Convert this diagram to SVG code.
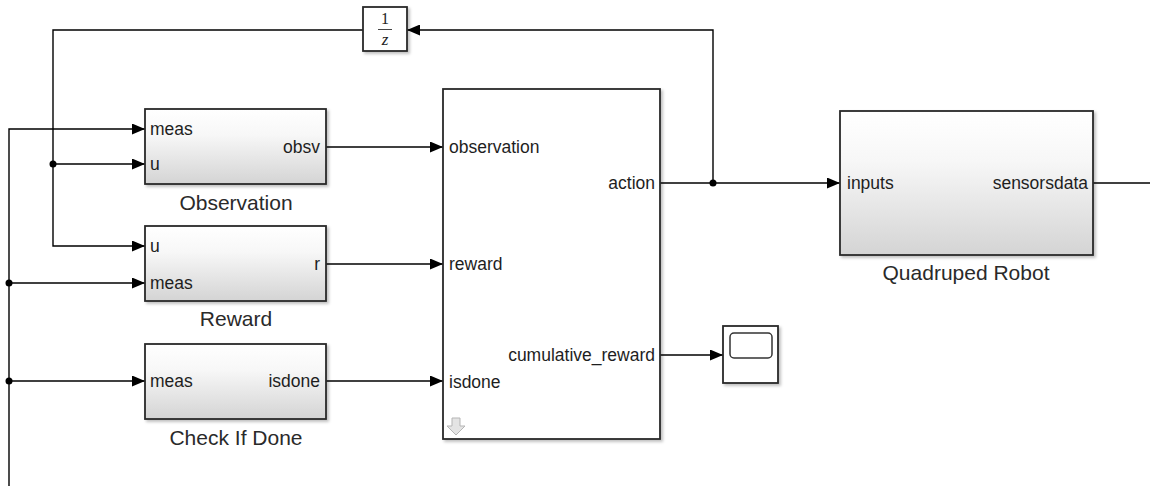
<svg xmlns="http://www.w3.org/2000/svg" width="1150" height="486" viewBox="0 0 1150 486">
<style>
.blk{stroke:#2a2a2a;stroke-width:1.8;filter:url(#sh)}
.port{font-family:"Liberation Sans",Arial,sans-serif;font-size:17.5px;fill:#1e1e1e}
.name{font-family:"Liberation Sans",Arial,sans-serif;font-size:21px;fill:#2a2a2a;text-anchor:middle}
.w{fill:none;stroke:#000;stroke-width:1.4}
.end{text-anchor:end}
</style>
<defs>
<linearGradient id="g" x1="0" y1="0" x2="0" y2="1">
<stop offset="0" stop-color="#ffffff"/>
<stop offset="0.35" stop-color="#f7f7f7"/>
<stop offset="1" stop-color="#d4d4d4"/>
</linearGradient>
<filter id="sh" x="-10%" y="-10%" width="130%" height="130%">
<feDropShadow dx="2" dy="2" stdDeviation="1.5" flood-color="#000" flood-opacity="0.25"/>
</filter>
<marker id="a" viewBox="0 0 13 11" refX="13" refY="5.5" markerWidth="13" markerHeight="11" markerUnits="userSpaceOnUse" orient="auto">
<path d="M0,0 L13,5.5 L0,11 Z" fill="#000"/>
</marker>
</defs>

<g id="connectors">
<path class="w" d="M9,486 V129 H145" marker-end="url(#a)"/>
<path class="w" d="M9,283 H145" marker-end="url(#a)"/>
<path class="w" d="M9,381 H145" marker-end="url(#a)"/>
<path class="w" d="M363,30 H53 V246 H145" marker-end="url(#a)"/>
<path class="w" d="M53,164 H145" marker-end="url(#a)"/>
<path class="w" d="M326,147 H443" marker-end="url(#a)"/>
<path class="w" d="M326,264 H443" marker-end="url(#a)"/>
<path class="w" d="M326,381 H443" marker-end="url(#a)"/>
<path class="w" d="M660,183 H840" marker-end="url(#a)"/>
<path class="w" d="M713,183 V30 H407" marker-end="url(#a)"/>
<path class="w" d="M660,355 H723" marker-end="url(#a)"/>
<path class="w" d="M1093,183 H1150"/>
<circle cx="9" cy="283" r="3.5" fill="#000"/>
<circle cx="9" cy="381" r="3.5" fill="#000"/>
<circle cx="53" cy="164" r="3.5" fill="#000"/>
<circle cx="713" cy="183" r="3.5" fill="#000"/>
</g>

<g id="unit-delay">
<rect class="blk" x="363" y="7" width="44" height="44" fill="#fff"/>
<text x="385" y="24" font-family="Liberation Serif,serif" font-size="16" text-anchor="middle" fill="#222">1</text>
<line x1="378" y1="29.5" x2="392" y2="29.5" stroke="#444" stroke-width="1"/>
<text x="385" y="45" font-family="Liberation Serif,serif" font-size="17" font-style="italic" text-anchor="middle" fill="#222">z</text>
</g>

<g id="observation">
<rect class="blk" x="145" y="109" width="181" height="75" fill="url(#g)"/>
<text class="port" x="150" y="135">meas</text>
<text class="port" x="150" y="170">u</text>
<text class="port end" x="320" y="153">obsv</text>
<text class="name" x="236" y="210">Observation</text>
</g>

<g id="reward">
<rect class="blk" x="145" y="226" width="181" height="75" fill="url(#g)"/>
<text class="port" x="150" y="252">u</text>
<text class="port" x="150" y="289">meas</text>
<text class="port end" x="320" y="270">r</text>
<text class="name" x="236" y="326">Reward</text>
</g>

<g id="check-if-done">
<rect class="blk" x="145" y="344" width="181" height="75" fill="url(#g)"/>
<text class="port" x="150" y="387">meas</text>
<text class="port end" x="320" y="387">isdone</text>
<text class="name" x="236" y="445">Check If Done</text>
</g>

<g id="agent">
<rect class="blk" x="443" y="89" width="217" height="350" fill="#fff"/>
<text class="port" x="449" y="153">observation</text>
<text class="port" x="449" y="270">reward</text>
<text class="port" x="449" y="388">isdone</text>
<text class="port end" x="655" y="189">action</text>
<text class="port end" x="655" y="361">cumulative_reward</text>
<path d="M452,418 H460 V426 H465 L456,435 L447,426 H452 Z" fill="#e4e4e4" stroke="#b5b5b5" stroke-width="1"/>
</g>

<g id="scope">
<rect class="blk" x="723" y="326" width="55" height="57" fill="#fff"/>
<rect x="730" y="333" width="42" height="25" rx="4" fill="#fff" stroke="#333" stroke-width="1.5"/>
</g>

<g id="quadruped-robot">
<rect class="blk" x="840" y="111" width="253" height="144" fill="url(#g)"/>
<text class="port" x="847" y="189">inputs</text>
<text class="port end" x="1088" y="189">sensorsdata</text>
<text class="name" x="966" y="280">Quadruped Robot</text>
</g>
</svg>
